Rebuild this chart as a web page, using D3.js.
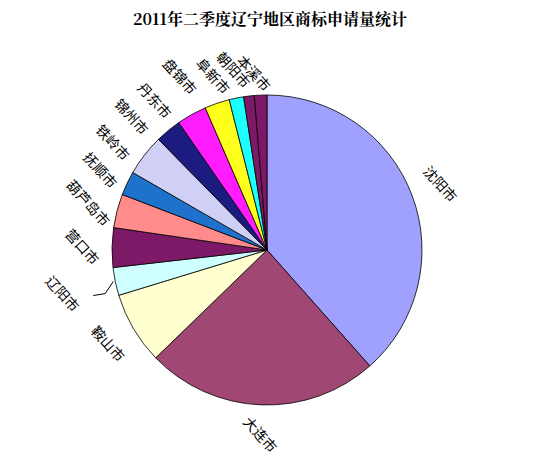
<!DOCTYPE html><html><head><meta charset="utf-8"><script src="https://cdn.jsdelivr.net/npm/d3@7"></script>
<style>body{margin:0;background:#fff}</style></head><body><svg id="c" width="539" height="464"></svg>
<script>
const cities=["沈阳市","大连市","鞍山市","辽阳市","营口市","葫芦岛市","抚顺市","铁岭市","锦州市","丹东市","盘锦市","阜新市","朝阳市","本溪市"];
const values=[38.3,24.2,7.5,2.9,4.1,3.5,2.5,4.3,2.7,3.1,2.6,1.5,1.1,1.3];
const colors=["#A0A0FF","#A04774","#FFFFD0","#D0FFFF","#7D1A67","#FF8B8B","#1E72CC","#D0D0F6","#1C1C80","#FF1CFF","#FFFF1C","#1CFFFF","#7D1A67","#7D1A67"];
const svg=d3.select("#c");
svg.append("text").attr("x",270).attr("y",25).attr("text-anchor","middle").attr("font-family","'Noto Serif CJK SC','Noto Sans CJK SC'").attr("font-weight","bold").attr("font-size",16).text("2011年二季度辽宁地区商标申请量统计");
const cx=267,cy=250,r=155;
const pie=d3.pie().sort(null).value(d=>d)(values);
const arc=d3.arc().innerRadius(0).outerRadius(r);
const g=svg.append("g").attr("transform",`translate(${cx},${cy})`);
g.selectAll("path").data(pie).join("path").attr("d",arc).attr("fill",(d,i)=>colors[i]).attr("stroke","#000").attr("stroke-width",0.8);
const shiftDeg=[0,0,0,-2,0,0,0,-3,-6,-8,-8,-6,-4,-2];
const rad=[185,185,185,185,185,185,185,188,190,187,194,182,183,177];
g.selectAll("text.l").data(pie).join("text").attr("class","l")
 .attr("transform",(d,i)=>{const a=(d.startAngle+d.endAngle)/2+shiftDeg[i]*Math.PI/180;let x=Math.sin(a)*rad[i],y=-Math.cos(a)*rad[i]; if(i===3){x-=25;} return `translate(${x},${y}) rotate(48)`;})
 .attr("text-anchor","middle").attr("dy","0.35em").attr("font-family","'Noto Sans CJK SC'").attr("font-size",14).text((d,i)=>cities[i]);
const m=(pie[3].startAngle+pie[3].endAngle)/2;
const p0=[Math.sin(m)*r,-Math.cos(m)*r];
g.append("polyline").attr("points",`${p0[0]-2},${p0[1]} ${p0[0]-10},${p0[1]+12} ${p0[0]-22},${p0[1]+14}`).attr("fill","none").attr("stroke","#000");
</script></body></html>
